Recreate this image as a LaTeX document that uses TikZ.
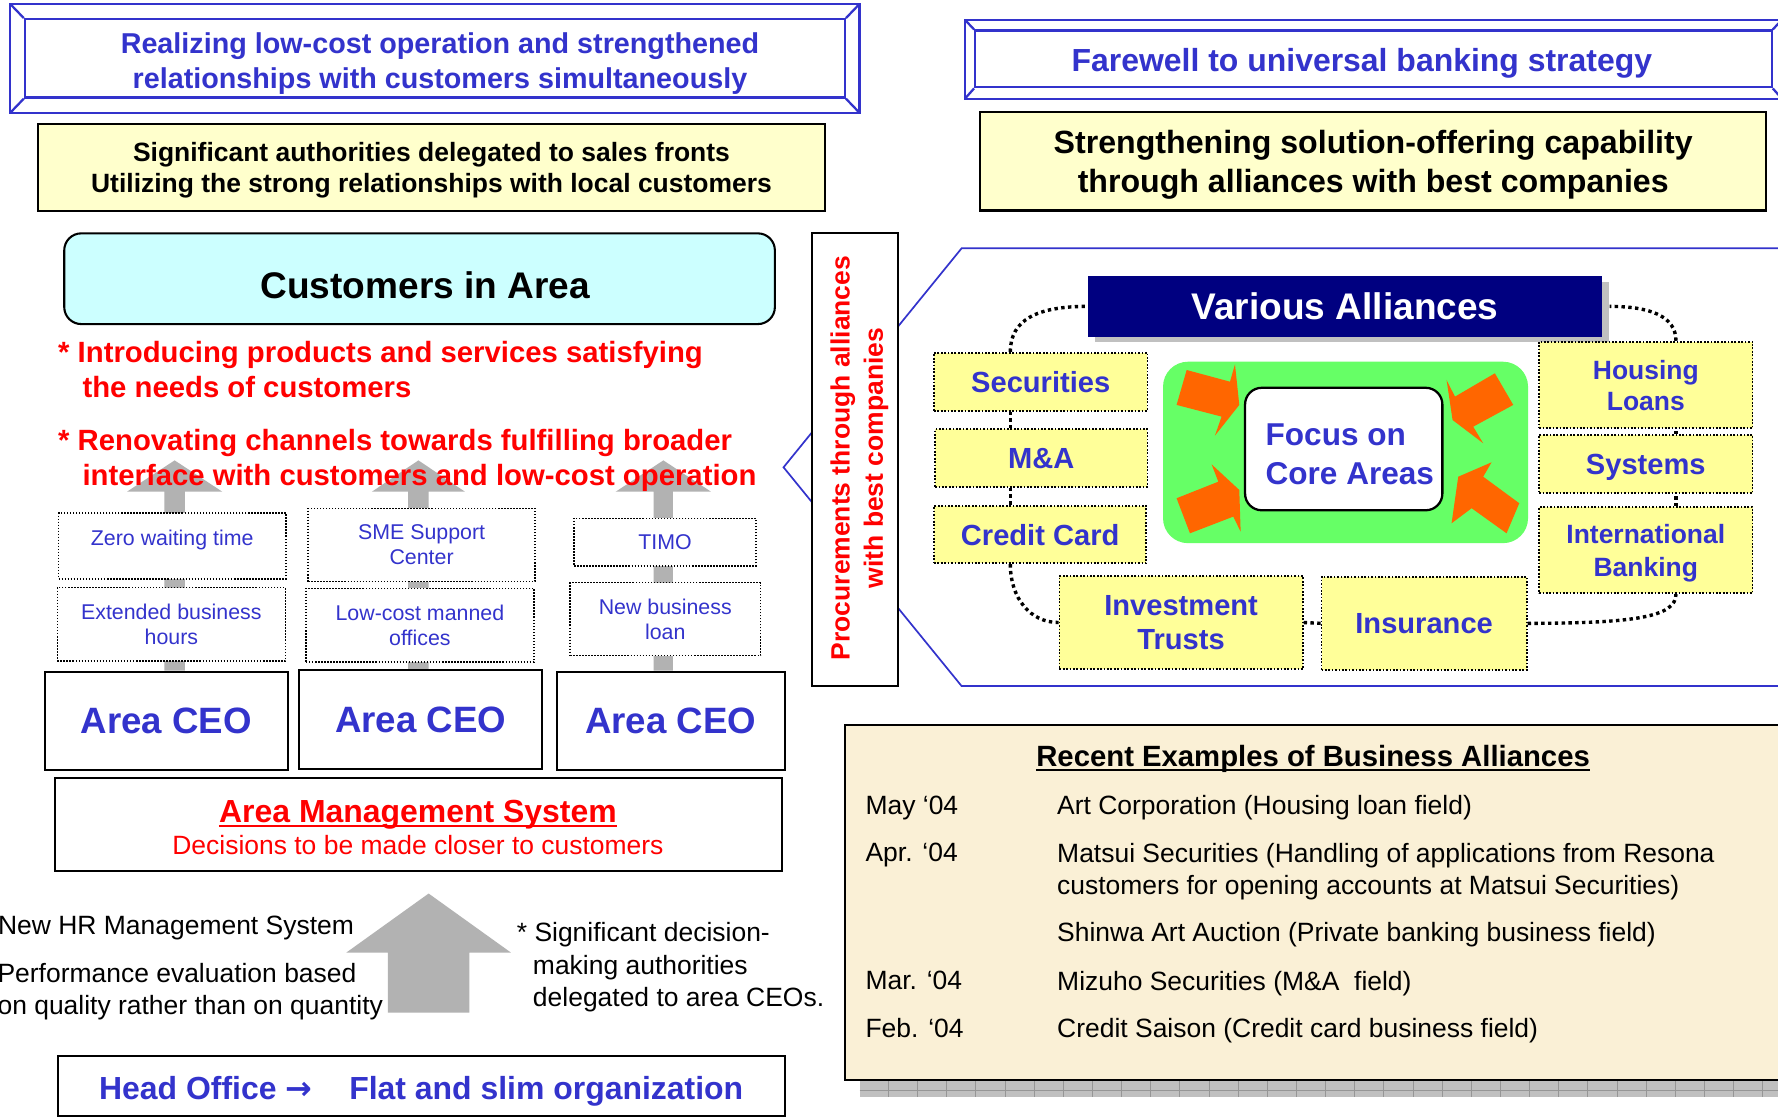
\documentclass[tikz,border=0pt]{standalone}
\usepackage{fontspec}
\setmainfont{Liberation Sans}
\newfontfamily\dvfont{DejaVu Sans}
\usetikzlibrary{calc}
\definecolor{tblue}{RGB}{51,51,204}
\definecolor{tred}{RGB}{255,0,0}
\definecolor{navy}{RGB}{0,0,128}
\definecolor{lyel}{RGB}{255,255,204}
\definecolor{ayel}{RGB}{255,255,153}
\definecolor{lcyan}{RGB}{204,255,255}
\definecolor{lgreen}{RGB}{102,255,102}
\definecolor{orng}{RGB}{255,102,0}
\definecolor{agrey}{RGB}{178,178,178}
\definecolor{parch}{RGB}{250,240,214}
\definecolor{shgrey}{RGB}{192,192,192}
\definecolor{shline}{RGB}{150,150,150}
\newcommand{\myfs}[2]{\fontsize{#1pt}{#2pt}\selectfont}
\newcommand{\blockup}[5]{%
  \fill[agrey] (#1) -- ($(#1)+(#4,#5)$) -- ($(#1)+(#3,#5)$) -- ($(#2)+(#3,0)$)
    -- ($(#2)+(-#3,0)$) -- ($(#1)+(-#3,#5)$) -- ($(#1)+(-#4,#5)$) -- cycle;}
\tikzset{
  sz/.style 2 args={minimum width=#1*0.6pt, minimum height=#2*0.6pt},
  box/.style={draw, line width=1.1pt, fill=white, inner sep=0pt, text depth=0pt},
  frame/.style={draw=tblue, line width=1.2pt, fill=white, inner sep=0pt},
  bevel/.style={tblue, line width=1.2pt},
  txt/.style={inner sep=0pt, text depth=0pt},
  dbox/.style={draw, fill=white, line width=0.8pt, dash pattern=on 0.8pt off 0.8pt, inner sep=0pt, text depth=0pt, text=tblue, align=center, font=\myfs{11.3}{13.3}},
  abox/.style={draw, fill=ayel, line width=0.9pt, dash pattern=on 0.9pt off 0.9pt, inner sep=0pt, text depth=0pt, text=tblue, align=center, font=\bfseries\myfs{15.4}{18}},
  conn/.style={line width=1.8pt, dash pattern=on 1.8pt off 1.8pt},
  ceo/.style={box, text=tblue, font=\bfseries\myfs{19.4}{23}},
  redt/.style={txt, anchor=west, text=tred, font=\bfseries\myfs{15.5}{18}},
  blk/.style={txt, anchor=west, align=left, font=\myfs{14}{17.1}},
  row/.style={txt, anchor=west, font=\myfs{14}{17}},
}
\begin{document}
\begin{tikzpicture}[x=0.6pt, y=-0.6pt]
\fill[white] (0,0) rectangle (1568,987);
\useasboundingbox (0,0) rectangle (1568,987);

% ---------- title frames ----------
\node[frame, sz={723}{69}] (t1) at (383.5,51.5) {};
\draw[bevel] ($(t1.north west)+(-12,-12.5)$) rectangle ($(t1.south east)+(12,12.5)$);
\draw[bevel] (t1.north west) -- ++(-12,-12.5) (t1.north east) -- ++(12,-12.5)
  (t1.south west) -- ++(-12,12.5) (t1.south east) -- ++(12,12.5);
\node[txt, text=tblue, align=center, font=\bfseries\myfs{15.2}{18.6}] (t1t) at (388,53.5)
  {Realizing low-cost operation and strengthened\\relationships with customers simultaneously};

\node[frame, sz={702.4}{50}] (t2) at (1211.2,52) {};
\draw[bevel] ($(t2.north west)+(-8,-8.5)$) rectangle ($(t2.south east)+(8,9)$);
\draw[bevel] (t2.north west) -- ++(-8,-8.5) (t2.north east) -- ++(8,-8.5)
  (t2.south west) -- ++(-8,9) (t2.south east) -- ++(8,9);
\node[txt, text=tblue, font=\bfseries\myfs{16.9}{20}] (t2t) at (1201,53) {Farewell to universal banking strategy};

% ---------- yellow headline boxes ----------
\node[box, fill=lyel, sz={694}{76}, align=center, font=\bfseries\myfs{14}{16.8}] (y1) at (380.5,147.7)
  {Significant authorities delegated to sales fronts\\Utilizing the strong relationships with local customers};
\node[box, fill=lyel, sz={693}{86.5}, align=center, font=\bfseries\myfs{17}{21}] (y2) at (1211,142.4)
  {Strengthening solution-offering capability\\through alliances with best companies};

% ---------- customers ----------
\node[box, fill=lcyan, rounded corners=9pt, sz={626.7}{80}] (cust) at (370,245.8) {};
\node[txt, font=\bfseries\myfs{19.6}{23}] (custt) at (375,251.3) {Customers in Area};

% ---------- area CEO boxes and arrows ----------
\node[ceo, sz={214}{86.7}] (ceo1) at (146.6,635.7) {Area CEO};
\node[ceo, sz={214}{87.3}] (ceo2) at (371,634.5) {Area CEO};
\node[ceo, sz={201}{86.7}] (ceo3) at (591.5,635.7) {Area CEO};
\coordinate (a1) at (154,406); \coordinate (b1) at (a1 |- ceo1.north);
\coordinate (a2) at (369,406); \coordinate (b2) at (a2 |- ceo2.north);
\coordinate (a3) at (585,406); \coordinate (b3) at (a3 |- ceo3.north);
\blockup{a1}{b1}{9}{42}{27.6}
\blockup{a2}{b2}{9}{41}{27.6}
\blockup{a3}{b3}{8.5}{42}{27.6}

\node[dbox, sz={200.4}{58.2}] (zw) at (151.9,481.4) {};
\node[txt, text=tblue, font=\myfs{11.3}{13.3}] (zwt) at (151.9,474.5) {Zero waiting time};
\node[dbox, sz={201}{64.7}] (eb) at (151.1,550.6) {Extended business\\hours};
\node[dbox, sz={200}{64.7}] (sme) at (371.8,480.6) {SME Support\\Center};
\node[dbox, sz={201}{65.2}] (lc) at (370.3,551.4) {Low-cost manned\\offices};
\node[dbox, sz={160.5}{42}] (timo) at (586.5,478.1) {TIMO};
\node[dbox, sz={168}{64.4}] (nb) at (586.7,546) {New business\\loan};

\node[redt] (r1) at (51,310.1) {* Introducing products and services satisfying};
\node[redt] (r2) at (72.5,341) {the needs of customers};
\node[redt] (r3) at (51,388) {* Renovating channels towards fulfilling broader};
\node[redt] (r4) at (72.5,418.9) {interface with customers and low-cost operation};

% ---------- area management system ----------
\node[box, sz={641.2}{81.4}] (ams) at (369.2,727.1) {};
\node[txt, text=tred, font=\bfseries\myfs{16.9}{20}] (amst) at (368.6,715.8) {Area Management System};
\draw[tred, line width=1.1pt] ([yshift=-1.8pt]amst.base west) -- ([yshift=-1.8pt]amst.base east);
\node[txt, text=tred, font=\myfs{14}{17}] (amsd) at (368.6,745.2) {Decisions to be made closer to customers};

\coordinate (bt) at (378,788); \coordinate (bb) at (378,893);
\blockup{bt}{bb}{36}{72.5}{52}

\node[blk] (hr) at (-2,815.7) {New HR Management System};
\node[blk] (pe) at (-2.5,872) {Performance evaluation based\\on quality rather than on quantity};
\node[blk] (sd) at (455.5,822) {* Significant decision-};
\node[blk] (sd2) at (469.7,865) {making authorities\\delegated to area CEOs.};

\node[box, sz={641}{53}] (ho) at (371.5,957.5) {};
\node[txt, text=tblue, font=\bfseries\myfs{16.9}{20}] (hot) at (371.4,959.5) {Head Office {\dvfont\bfseries →}\hspace{19.6pt}Flat and slim organization};

% ---------- procurement pentagon ----------
\draw[tblue, line width=0.9pt] (1600,219) -- (848,219) -- (691,412.1) -- (848,605) -- (1600,605);
\node[box, sz={75.9}{399.8}] (proc) at (754.2,405.1) {};
\node[txt, rotate=90, align=center, text=tred, font=\bfseries\myfs{14}{17.6}] (proct) at (755.4,404)
  {Procurements through alliances\\with best companies};

% ---------- various alliances ----------
\coordinate (vac) at (1186.2,270.2);
\fill[shgrey] ($(vac)+(-220.9,-21.75)$) rectangle ($(vac)+(232.9,31.75)$);
\node[fill=navy, inner sep=0pt, text depth=0pt, sz={453.8}{53.5}, text=white, font=\bfseries\myfs{19.6}{23}] (va) at (vac) {Various Alliances};

\node[abox, sz={188.2}{51.1}] (sec) at (917.8,336.6) {Securities};
\node[abox, sz={187.1}{50.6}] (mna) at (918.3,403.9) {M\&A};
\node[abox, sz={187.1}{50.6}] (cc) at (917.3,471.5) {Credit Card};
\node[abox, sz={214.6}{82.3}] (it) at (1041.6,549) {Investment\\Trusts};
\node[abox, sz={181}{82.3}] (ins) at (1255.9,549.7) {Insurance};
\node[abox, sz={188.2}{76.4}, font=\bfseries\myfs{14}{16.4}] (hl) at (1451.4,339.5) {Housing\\Loans};
\node[abox, sz={188.2}{51.4}] (sys) at (1451.4,409.3) {Systems};
\node[abox, sz={188.2}{75.8}, font=\bfseries\myfs{14}{17.6}] (ib) at (1451.4,485.3) {International\\Banking};

\coordinate (lx) at (891,0); \coordinate (rx) at (1478,0);
\draw[conn] (sec.north -| lx) .. controls +(0,-28) and +(-45,0) .. (va.west);
\draw[conn] (sec.south -| lx) -- (mna.north -| lx);
\draw[conn] (mna.south -| lx) -- (cc.north -| lx);
\draw[conn] (cc.south -| lx) .. controls +(0,30) and +(-25,0) .. (it.west);
\draw[conn] (it.east) -- (ins.west);
\draw[conn] (ins.east) .. controls +(95,0) and +(0,20) .. (ib.south -| rx);
\draw[conn] (ib.north -| rx) -- (sys.south -| rx);
\draw[conn] (sys.north -| rx) -- (hl.south -| rx);
\draw[conn] (hl.north -| rx) .. controls +(0,-22) and +(35,0) .. ($(va.east)+(6,0)$);

% ---------- focus on core areas ----------
\node[fill=lgreen, rounded corners=13.2pt, inner sep=0pt, sz={321.9}{160}] (grn) at (1186.6,399) {};
\fill[orng] (1037.6,357.1) -- (1046.5,326.3) -- (1084.7,336.6) -- (1089.1,321.3) -- (1092.9,357.1) -- (1071.4,384.2) -- (1077.3,367.4) -- cycle;
\fill[orng] (1318.3,329.2) -- (1334.5,357.1) -- (1299.2,376.3) -- (1308.0,390.9) -- (1281.0,370.4) -- (1275.7,335.1) -- (1283.1,349.8) -- cycle;
\fill[orng] (1037.6,439.4) -- (1074.4,424.8) -- (1068.5,409.5) -- (1092.9,432.1) -- (1094.1,468.9) -- (1087.6,455.6) -- (1049.4,470.3) -- cycle;
\fill[orng] (1315.4,407.7) -- (1308.0,420.4) -- (1339.8,443.8) -- (1328.6,470.3) -- (1297.8,448.2) -- (1280.1,461.5) -- (1286.0,420.4) -- cycle;
\node[draw, line width=1.2pt, fill=white, rounded corners=8.8pt, inner sep=0pt, sz={174}{108}] (foc) at (1185,396) {};
\node[txt, align=left, text=tblue, font=\bfseries\myfs{16.7}{20.3}] (foct) at (1190.4,400.5) {Focus on\\Core Areas};

% ---------- recent examples ----------
\fill[shgrey] (758,645) rectangle (1600,967.2);
\foreach \k in {0,...,32} \draw[shline, line width=0.4pt] (783.4+25.7*\k,952.4) -- (783.4+25.7*\k,967.2);
\draw[shline, line width=0.4pt] (758,961.2) -- (1600,961.2);
\node[box, fill=parch, sz={855}{313.4}] (rec) at (1172.5,795.7) {};
\node[txt, font=\bfseries\myfs{15.5}{18}] (rect) at (1158,667) {Recent Examples of Business Alliances};
\draw[line width=1.1pt] ([yshift=-1.6pt]rect.base west) -- ([yshift=-1.6pt]rect.base east);
\node[row] (d1) at (763,710) {May ‘04};
\node[row] (d2) at (763,752) {Apr. ‘04};
\node[row] (d3) at (763,864.8) {Mar. ‘04};
\node[row] (d4) at (763,906.8) {Feb. ‘04};
\node[row] (e1) at (932,710) {Art Corporation (Housing loan field)};
\node[row] (e2) at (932,752) {Matsui Securities (Handling of applications from Resona};
\node[row] (e3) at (932,780.5) {customers for opening accounts at Matsui Securities)};
\node[row] (e4) at (932,821.6) {Shinwa Art Auction (Private banking business field)};
\node[row] (e5) at (932,864.8) {Mizuho Securities (M\&A\ \ field)};
\node[row] (e6) at (932,906.8) {Credit Saison (Credit card business field)};
\end{tikzpicture}
\end{document}
